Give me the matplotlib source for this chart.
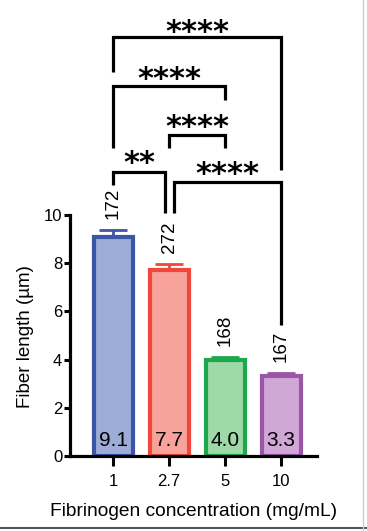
import matplotlib
matplotlib.use("Agg")
import matplotlib.pyplot as plt
from matplotlib.lines import Line2D

plt.rcParams['font.family'] = ['Liberation Sans', 'DejaVu Sans']

# data
concentrations = ["1", "2.7", "5", "10"]
means = [9.1, 7.7, 4.0, 3.3]
errors = [0.28, 0.27, 0.1, 0.14]
counts = [172, 272, 168, 167]
edge_colors = ["#3b56a5", "#f0473a", "#1ea84e", "#9a55a7"]
fill_colors = ["#9eacd8", "#f7a39b", "#9edaa9", "#d0a7d7"]

# significance comparisons: (left x, right x, label)
comparisons = [(0, 3, "****"), (0, 2, "****"), (1, 2, "****"),
               (1.09, 3, "****"), (0, 0.93, "**")]
# bracket geometry: (bar height, left leg end, right leg end, star centre)
bracket_geom = [(17.39, 15.93, 11.87, 17.95), (15.35, 12.78, 14.77, 16.0),
                (13.32, 12.78, 12.78, 14.02), (11.37, 10.08, 5.44, 12.07),
                (11.78, 11.24, 10.08, 12.52)]

fig = plt.figure(figsize=(3.67, 5.31), dpi=100)
ax = fig.add_axes([70 / 367, 75 / 531, 247 / 367, 456 / 531])
x = list(range(len(means)))

ax.bar(x, means, width=0.7, color=fill_colors, edgecolor=edge_colors,
       linewidth=3, zorder=2)
for xi, m, e, c in zip(x, means, errors, edge_colors):
    ax.errorbar(xi, m, yerr=[[0], [e]], fmt="none", ecolor=c,
                elinewidth=2, capsize=10, capthick=2, zorder=1)

for xi, m, e, n in zip(x, means, errors, counts):
    ax.text(xi, m + e + 0.45, str(n), rotation=90, ha="center", va="bottom",
            fontsize=13.5)
    ax.text(xi, 0.66, f"{m:.1f}", ha="center", va="center", fontsize=15)

for (x1, x2, lab), (h, e1, e2, sc) in zip(comparisons, bracket_geom):
    ax.plot([x1, x1, x2, x2], [e1, h, h, e2], color="black", lw=2.3,
            solid_capstyle="butt", solid_joinstyle="miter", clip_on=False)
    ax.text((x1 + x2) / 2, sc - 0.73, lab, ha="center", va="baseline",
            fontsize=22, fontweight="bold", family="DejaVu Sans")

ax.set_xlim(-0.77, 3.64)
ax.set_ylim(0, 18.92)
ax.set_yticks([0, 2, 4, 6, 8, 10])
ax.set_xticks(x)
ax.set_xticklabels(concentrations)
ax.tick_params(axis="y", length=4, width=2.2, labelsize=12, pad=1.5)
ax.tick_params(axis="x", length=7, width=2.2, labelsize=12, pad=6)
for s in ["top", "right"]:
    ax.spines[s].set_visible(False)
ax.spines["left"].set_linewidth(2.3)
ax.spines["bottom"].set_linewidth(2.3)
ax.spines["left"].set_bounds(0, 10)
ax.set_xlabel("Fibrinogen concentration (mg/mL)", fontsize=13.8)
ax.set_ylabel("Fiber length (\u00b5m)", fontsize=13.5)
ax.yaxis.set_label_coords(-0.182, 0.263)
ax.xaxis.set_label_coords(0.5, -(511 - 456) / 456)
ax.xaxis.label.set_va("center")
ax.yaxis.label.set_va("center")

fig.add_artist(Line2D([0, 1], [3 / 531, 3 / 531], color="#555555", lw=1.5))
fig.add_artist(Line2D([363 / 367, 363 / 367], [0, 1], color="#cccccc", lw=1))

fig.savefig("out.png", dpi=100)
